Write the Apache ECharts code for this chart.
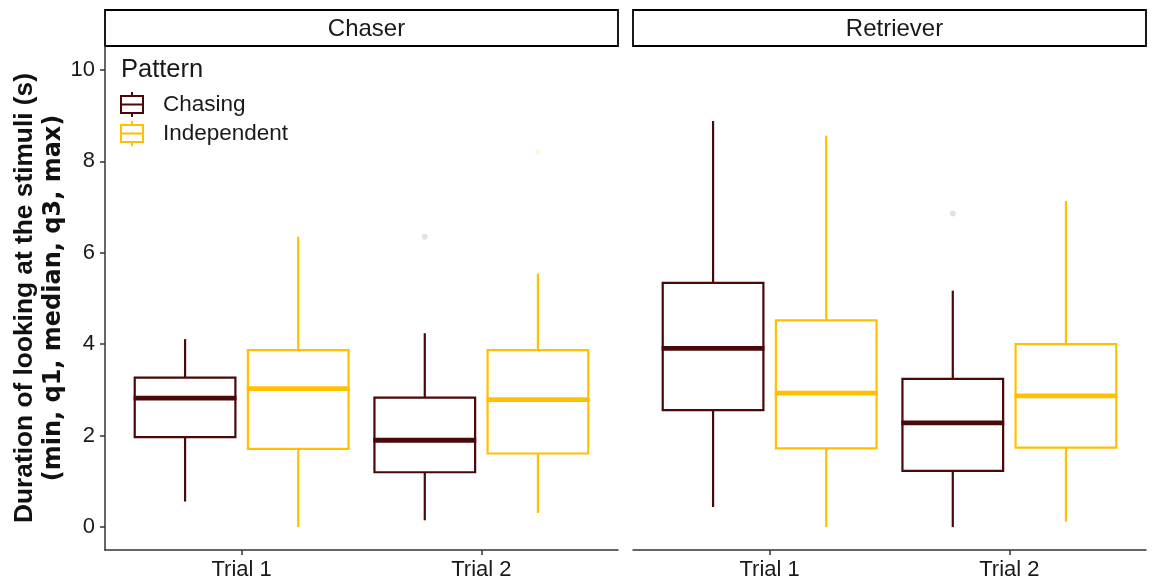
<!DOCTYPE html>
<html><head><meta charset="utf-8">
<script src="https://cdn.jsdelivr.net/npm/echarts@6/dist/echarts.min.js"></script>
<style>html,body{margin:0;padding:0;background:#fff}#c{width:1155px;height:582px}</style>
</head><body><div id="c"></div>
<script>
// ---------------- data ----------------
const facets = ['Chaser', 'Retriever'];
const trials = ['Trial 1', 'Trial 2'];
const patterns = ['Chasing', 'Independent'];
const yTicks = [0, 2, 4, 6, 8, 10];
// [min, q1, median, q3, max] for Trial 1, Trial 2
const chaserChasing        = [[0.56, 1.97, 2.82, 3.27, 4.11], [0.15, 1.20, 1.90, 2.83, 4.24]];
const chaserIndependent    = [[0.00, 1.71, 3.03, 3.87, 6.35], [0.31, 1.61, 2.79, 3.87, 5.54]];
const retrieverChasing     = [[0.44, 2.56, 3.91, 5.34, 8.88], [0.00, 1.23, 2.28, 3.24, 5.17]];
const retrieverIndependent = [[0.00, 1.72, 2.93, 4.52, 8.56], [0.12, 1.74, 2.87, 4.00, 7.13]];
// outliers: [trial index, value]
const chaserChasingOut        = [[1, 6.35]];
const chaserIndependentOut    = [[1, 8.20]];
const retrieverChasingOut     = [[1, 6.86]];
const retrieverIndependentOut = [];

// ---------------- styles / layout ----------------
const COLORS = ['#4a0808', '#ffc000'];
const OUT_COLORS = ['rgba(74,8,8,0.16)', 'rgba(255,192,0,0.16)'];
const FONT = '"Liberation Sans", Arial, sans-serif';
const PANELS = [{ l: 105, r: 618 }, { l: 633, r: 1146 }];
const TOP = 46, BOTTOM = 550, STRIP_TOP = 10;
const W = 1155, H = 582;
const DODGE = 0.236, BOX_W = 0.42;

const boxData = [[chaserChasing, chaserIndependent], [retrieverChasing, retrieverIndependent]];
const outData = [[chaserChasingOut, chaserIndependentOut], [retrieverChasingOut, retrieverIndependentOut]];

function makeRender(color, offset) {
  return function (params, api) {
    const x = api.value(0) + offset;
    const mn = api.value(1), q1 = api.value(2), md = api.value(3), q3 = api.value(4), mx = api.value(5);
    const pMin = api.coord([x, mn]), pQ1 = api.coord([x, q1]), pMd = api.coord([x, md]);
    const pQ3 = api.coord([x, q3]), pMax = api.coord([x, mx]);
    const left = api.coord([x - BOX_W / 2, q3])[0], right = api.coord([x + BOX_W / 2, q3])[0];
    return {
      type: 'group',
      children: [
        { type: 'line', shape: { x1: pMin[0], y1: pMin[1], x2: pQ1[0], y2: pQ1[1] }, style: { stroke: color, lineWidth: 2.2 } },
        { type: 'line', shape: { x1: pQ3[0], y1: pQ3[1], x2: pMax[0], y2: pMax[1] }, style: { stroke: color, lineWidth: 2.2 } },
        { type: 'rect', shape: { x: left, y: pQ3[1], width: right - left, height: pQ1[1] - pQ3[1] }, style: { fill: '#fff', stroke: color, lineWidth: 2.2 } },
        { type: 'line', shape: { x1: left - 1.1, y1: pMd[1], x2: right + 1.1, y2: pMd[1] }, style: { stroke: color, lineWidth: 4.8 } }
      ]
    };
  };
}

const grids = [], xAxes = [], yAxes = [], series = [], graphics = [];
facets.forEach((facet, fi) => {
  const p = PANELS[fi];
  grids.push({ left: p.l, right: W - p.r, top: TOP, bottom: H - BOTTOM, outerBoundsMode: 'none', containLabel: false });
  xAxes.push({
    gridIndex: fi, type: 'value', min: 0.43, max: 2.57, position: 'bottom',
    axisLine: { show: true, onZero: false, lineStyle: { color: '#333', width: 1.5 } },
    axisTick: { show: true, length: 5, lineStyle: { color: '#333', width: 1.5 }, customValues: [1, 2] },
    axisLabel: { show: true, customValues: [1, 2], margin: 9, fontSize: 22, fontFamily: FONT, color: '#1a1a1a',
      formatter: v => trials[Math.round(v) - 1] },
    splitLine: { show: false }
  });
  yAxes.push({
    gridIndex: fi, type: 'value', min: -0.5, max: 10.52, position: 'left',
    axisLine: { show: fi === 0, onZero: false, lineStyle: { color: '#333', width: 1.5 } },
    axisTick: { show: fi === 0, length: 5, lineStyle: { color: '#333', width: 1.5 }, customValues: yTicks },
    axisLabel: { show: fi === 0, customValues: yTicks, margin: 10, fontSize: 22, fontFamily: FONT, color: '#1a1a1a' },
    splitLine: { show: false },
    name: fi === 0 ? '{a|Duration of looking at the stimuli (s)}\n{b|(min, q1, median, q3, max)}' : '',
    nameLocation: 'middle', nameRotate: 90, nameGap: 37,
    nameTextStyle: {
      align: 'center', color: '#111',
      rich: {
        a: { fontSize: 26.3, fontWeight: 'bold', fontFamily: FONT, color: '#111', lineHeight: 29 },
        b: { fontSize: 24, fontWeight: 'bold', fontFamily: '"DejaVu Sans", sans-serif', color: '#111', lineHeight: 29 }
      }
    }
  });
  patterns.forEach((pat, pi) => {
    const offset = pi === 0 ? -DODGE : DODGE;
    series.push({
      type: 'custom', name: pat, xAxisIndex: fi, yAxisIndex: fi,
      itemStyle: { color: COLORS[pi] },
      renderItem: makeRender(COLORS[pi], offset),
      encode: { x: 0, y: [1, 2, 3, 4, 5] },
      data: boxData[fi][pi].map((b, ti) => [ti + 1].concat(b)),
      z: 2
    });
    series.push({
      type: 'scatter', name: pat + ' outliers', xAxisIndex: fi, yAxisIndex: fi,
      symbolSize: 6, itemStyle: { color: OUT_COLORS[pi] },
      data: outData[fi][pi].map(o => [o[0] + 1 + offset, o[1]]),
      z: 1, silent: true
    });
  });
  graphics.push({
    type: 'rect', shape: { x: p.l, y: STRIP_TOP, width: p.r - p.l, height: TOP - STRIP_TOP },
    style: { fill: '#fff', stroke: '#000', lineWidth: 1.8 }
  });
  graphics.push({
    type: 'text', x: (p.l + p.r) / 2 + 5, y: (STRIP_TOP + TOP) / 2 + 1,
    style: { text: facet, fontSize: 24, fontFamily: FONT, fill: '#1a1a1a', align: 'center', verticalAlign: 'middle' }
  });
});

const iconPath = 'path://M11,0 L11,4 M0,4 L22,4 L22,21 L0,21 Z M0,12.5 L22,12.5 M11,21 L11,25';
const chart = echarts.init(document.getElementById('c'), null, { renderer: 'canvas' });
chart.setOption({
  animation: false,
  backgroundColor: '#fff',
  title: { text: 'Pattern', left: 121, top: 57, padding: 0,
    textStyle: { fontSize: 25.5, fontWeight: 'normal', fontFamily: FONT, color: '#1a1a1a' } },
  legend: {
    orient: 'vertical', left: 120, top: 91, padding: 0, itemGap: 2,
    itemWidth: 22, itemHeight: 25, icon: iconPath,
    textStyle: { fontSize: 22.5, fontFamily: FONT, color: '#1a1a1a', lineHeight: 24, padding: [0, 0, 0, 15] },
    data: patterns.map((p, i) => ({ name: p, itemStyle: { color: 'transparent', borderColor: COLORS[i], borderWidth: 2 } })),
    selectedMode: false
  },
  grid: grids, xAxis: xAxes, yAxis: yAxes, series: series,
  graphic: graphics
});
</script></body></html>
